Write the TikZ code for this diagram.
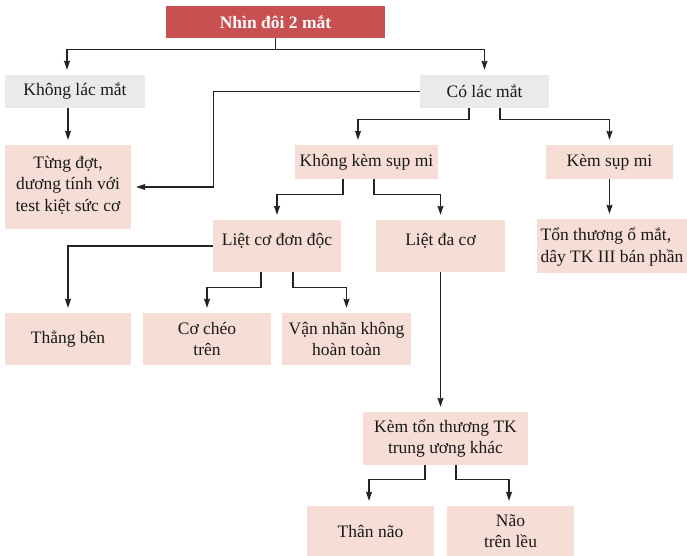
\documentclass[tikz,border=0pt]{standalone}
\usepackage{fontspec}
\setmainfont{Liberation Serif}
\usetikzlibrary{arrows.meta,calc}
\definecolor{titlered}{RGB}{200,80,80}
\definecolor{greyfill}{RGB}{234,234,234}
\definecolor{pinkfill}{RGB}{246,222,214}
\definecolor{inkline}{RGB}{35,35,35}
\definecolor{inktext}{RGB}{25,25,25}
\begin{document}
\begin{tikzpicture}[x=1pt,y=-1pt,
  basebox/.style={rectangle, inner sep=0pt, align=center,
    font=\fontsize{17.5}{21.5}\selectfont, text=inktext},
  pinkbox/.style={basebox, fill=pinkfill},
  greybox/.style={basebox, fill=greyfill},
  titlebox/.style={basebox, fill=titlered, text=white,
    font=\fontsize{17.5}{21.5}\selectfont\bfseries},
  boxsize/.style 2 args={minimum width=#1pt, minimum height=#2pt},
  plaintext/.style={inner sep=0pt, align=center,
    font=\fontsize{17.5}{21.5}\selectfont, text=inktext},
  link/.style={draw=inkline, line width=1.3pt},
  arr/.style={link, -{Stealth[length=9pt,width=6pt,inset=1pt]}, shorten >=5pt}
]
\fill[white] (0,0) rectangle (687,556);
\useasboundingbox (0,0) rectangle (687,556);

% boxes
\node[titlebox, boxsize={219}{32}] (title) at (275.5,22) {Nhìn đôi 2 mắt};
\node[greybox, boxsize={140}{33}] (kl) at (75,91.5) {Không lác mắt};
\node[greybox, boxsize={129}{33}] (co) at (484.5,91.5) {Có lác mắt};
\node[pinkbox, boxsize={126}{84}] (tung) at (68,187) {};
\node[plaintext] (tungtext) at (68,185) {Từng đợt,\\dương tính với\\test kiệt sức cơ};
\node[pinkbox, boxsize={143}{34}] (kksm) at (366.5,162) {Không kèm sụp mi};
\node[pinkbox, boxsize={127}{34}] (ksm) at (609.5,162) {Kèm sụp mi};
\node[pinkbox, boxsize={150}{54}] (ton) at (612,246) {};
\node[plaintext, align=left] (tontext) at (612,247) {Tổn thương ổ mắt,\\dây TK III bán phần};
\node[pinkbox, boxsize={128}{52}] (lcdd) at (277,246) {};
\node[plaintext] (lcddtext) at (277,241) {Liệt cơ đơn độc};
\node[pinkbox, boxsize={129}{52}] (ldc) at (440.5,246) {};
\node[plaintext] (ldctext) at (440.5,241) {Liệt đa cơ};
\node[pinkbox, boxsize={126}{52}] (tb) at (68,339) {Thẳng bên};
\node[pinkbox, boxsize={128}{52}] (cct) at (207,339) {Cơ chéo\\trên};
\node[pinkbox, boxsize={129}{52}] (vn) at (346.5,339) {Vận nhãn không\\hoàn toàn};
\node[pinkbox, boxsize={165}{53}] (kt) at (445.5,438.5) {Kèm tổn thương TK\\trung ương khác};
\node[pinkbox, boxsize={127}{50}] (tn) at (370.5,531) {Thân não};
\node[pinkbox, boxsize={127}{50}] (ntl) at (510.5,531) {Não\\trên lều};

% connectors
\draw[arr] (title.south) -- ++(0,11) -| ([xshift=-8pt]kl.north);
\draw[arr] (title.south) -- ++(0,11) -| (co.north);
\draw[arr] (kl.south -| tung.north) -- (tung.north);
\draw[arr] (co.west) -- ++(-206,0) |- (tung.east);
\draw[arr] ([xshift=-15.5pt]co.south) -- ++(0,11.5) -| ([xshift=-8.5pt]kksm.north);
\draw[arr] ([xshift=15.5pt]co.south) -- ++(0,11.5) -| (ksm.north);
\draw[arr] (ksm.south) -- (ksm.south |- ton.north);
\draw[arr] ([xshift=-23.5pt]kksm.south) -- ++(0,15) -| (lcdd.north);
\draw[arr] ([xshift=7.5pt]kksm.south) -- ++(0,15) -| (ldc.north);
\draw[arr] (lcdd.west) -| (tb.north);
\draw[arr] ([xshift=-16pt]lcdd.south) -- ++(0,15) -| (cct.north);
\draw[arr] ([xshift=16pt]lcdd.south) -- ++(0,15) -| (vn.north);
\draw[arr] (ldc.south) -- (ldc.south |- kt.north);
\draw[arr] ([xshift=-20.5pt]kt.south) -- ++(0,14) -| ([xshift=-1.5pt]tn.north);
\draw[arr] ([xshift=10.5pt]kt.south) -- ++(0,14) -| ([xshift=-1.5pt]ntl.north);
\end{tikzpicture}
\end{document}
